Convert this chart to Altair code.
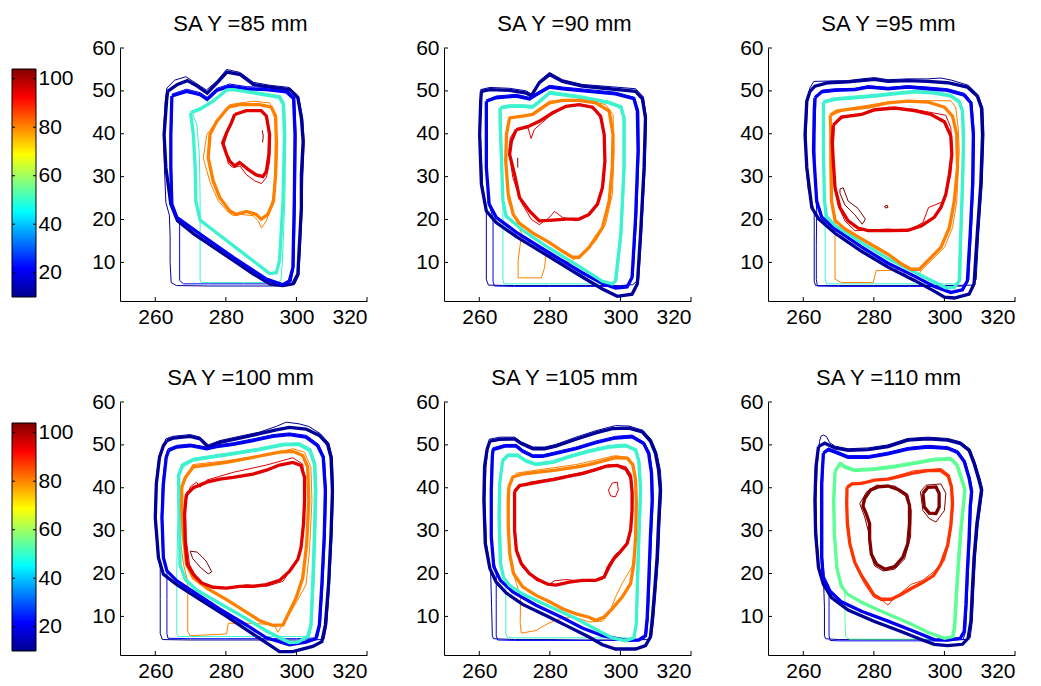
import altair as alt
import pandas as pd

# ---------------- layout / axes constants ----------------
W, H = 247, 253
CB_W = 24
CB_CELL = 31
X_DOMAIN = [250, 320]
Y_DOMAIN = [1, 60]
X_TICKS = [260, 280, 300, 320]
Y_TICKS = [10, 20, 30, 40, 50, 60]
CB_DOMAIN = [8.35, 112.66]
CB_LO, CB_HI = 10, 104
CB_TICKS = [20, 40, 60, 80, 100]
FONT = "Liberation Sans"

PANELS = ["SA Y =85 mm", "SA Y =90 mm", "SA Y =95 mm",
          "SA Y =100 mm", "SA Y =105 mm", "SA Y =110 mm"]

LEVELS = ["navy", "blue", "cyan", "green", "orange", "redorange", "red", "darkred"]
LEVEL_COLORS = ["#000099", "#0000F0", "#3CF2CF", "#5CFF94", "#FF8000", "#FF3300", "#E00000", "#800000"]

JET = [(0.0, "#00008F"), (0.125, "#0000FF"), (0.375, "#00FFFF"),
       (0.625, "#FFFF00"), (0.875, "#FF0000"), (1.0, "#800000")]

# ---------------- SA Y = 85 mm ----------------
p85_navy_thick = [(263.5,49.9),(266.3,51.5),(269.1,52.4),(271.9,51.1),(274.7,49.5),(277.5,51.9),(280.3,54.4),(284.1,53.8),(287.8,51.5),(292.5,50.9),(298.1,50.3),(300.4,48.4),(301.4,43.7),(301.9,38.3),(301.4,30.5),(301.4,22.8),(300.9,15.0),(300.4,7.3),(299.0,5.0),(296.2,4.6),(292.5,5.0),(287.8,7.3),(282.2,10.4),(276.6,13.5),(271.0,16.6),(266.3,19.7),(264.4,23.6),(263.0,32.1),(262.5,39.8),(263.2,47.6)]
p85_navy_thin = [(263.3,50.7),(265.5,52.5),(268.7,53.3),(271.5,51.8),(274.5,50.2),(277.5,52.3),(280.2,55.0),(284.0,54.3),(287.8,52.0),(292.5,51.3),(298.0,50.8),(300.6,48.8),(301.8,43.5),(302.2,38.0),(301.8,30.0),(301.6,22.0),(301.2,14.5),(300.7,7.0),(299.5,4.9),(296.0,4.5),(285.0,4.5),(275.0,4.5),(266.0,4.6),(264.5,5.3),(264.2,10.0),(264.2,16.0),(264.0,21.0),(263.0,24.0),(262.6,32.0),(262.3,40.0),(262.8,47.5)]
p85_blue_thick = [(264.7,48.8),(268.9,49.9),(272.7,49.1),(274.7,48.0),(277.4,50.1),(281.1,51.1),(285.8,50.5),(291.5,50.3),(297.1,49.8),(299.2,48.2),(299.6,39.8),(299.4,24.3),(299.0,8.8),(298.0,5.7),(296.2,4.8),(291.5,6.1),(282.1,11.2),(272.7,16.6),(266.1,20.5),(264.7,23.6),(264.4,32.1),(264.4,39.8)]
p85_blue_thin = [(264.9,49.3),(268.9,50.4),(272.7,49.6),(274.7,48.5),(277.4,50.6),(281.1,51.6),(285.8,51.0),(291.5,50.8),(297.1,50.3),(299.5,48.6),(299.9,39.8),(299.7,24.3),(299.3,9.0),(298.5,5.5),(296.5,5.0),(285.0,5.0),(275.0,5.0),(268.0,5.0),(266.9,5.8),(266.9,12.0),(266.9,19.5),(264.9,22.5),(264.6,32.0),(264.6,40.0)]
p85_cyan_thick = [(270.0,44.9),(272.7,45.7),(276.4,47.6),(280.2,50.2),(282.1,50.3),(285.8,49.8),(291.5,49.0),(295.2,48.5),(296.3,46.8),(296.6,39.8),(296.2,24.3),(295.2,10.4),(294.3,7.6),(292.4,7.4),(287.7,10.4),(282.1,13.9),(276.4,17.5),(272.7,19.9),(271.5,24.3),(271.3,32.1),(270.8,39.8)]
p85_cyan_thin = [(270.3,45.3),(272.9,46.2),(276.6,48.0),(280.4,50.6),(282.3,50.8),(286.0,50.2),(291.6,49.4),(295.4,48.9),(296.6,47.2),(297.0,40.0),(296.7,24.3),(296.0,10.0),(295.6,5.8),(294.5,5.3),(285.0,5.3),(276.0,5.3),(273.0,5.3),(272.7,6.0),(272.7,15.0),(272.7,25.0),(272.5,35.0),(271.8,42.0)]
p85_orange_thick = [(280.7,46.2),(283.9,46.8),(289.6,46.8),(292.9,46.2),(294.1,44.1),(294.3,38.3),(294.1,30.5),(293.5,24.3),(291.9,21.2),(290.0,20.1),(288.6,21.2),(285.8,21.9),(283.0,21.2),(281.1,22.0),(278.3,25.1),(276.4,29.0),(275.0,34.4),(275.5,39.8),(277.4,42.9)]
p85_orange_thin = [(281.1,46.8),(287.7,47.6),(292.4,47.2),(293.5,45.3),(294.7,38.3),(294.3,29.8),(292.8,22.8),(291.5,19.7),(290.1,18.0),(289.2,19.7),(287.7,20.9),(284.0,21.2),(282.1,20.9),(280.7,21.7),(277.9,24.3),(275.5,28.7),(273.6,34.4),(274.6,39.8),(277.0,42.5)]
p85_red_thick = [(282.5,44.5),(285.8,45.4),(290.0,45.4),(291.5,44.1),(292.4,39.8),(292.2,35.2),(291.5,31.3),(290.5,30.0),(288.6,30.4),(286.3,31.7),(283.9,33.3),(282.5,32.5),(281.1,33.6),(280.2,35.2),(279.1,37.9),(280.2,40.2),(281.6,42.6)]
p85_red_thin = [(282.1,44.1),(286.3,45.6),(290.5,45.2),(291.8,43.3),(292.6,38.3),(292.4,33.6),(291.5,29.8),(290.1,28.4),(288.2,29.0),(285.8,30.5),(284.0,32.5),(282.1,32.1),(280.7,33.0),(279.5,37.6),(280.7,40.7)]
p85_darkred_thin = [(290.3,40.8),(290.6,39.5),(290.4,38.0)]

# ---------------- SA Y = 90 mm ----------------
p90_navy_thick = [(260.6,49.9),(263.0,50.3),(268.6,50.1),(273.3,49.5),(274.7,48.8),(277.0,51.9),(279.9,53.8),(283.6,52.2),(289.2,51.1),(296.8,50.5),(304.3,49.9),(306.2,48.2),(307.1,43.7),(306.7,32.1),(305.7,16.6),(304.8,5.0),(303.3,2.6),(299.1,2.1),(294.9,3.8),(289.2,6.6),(279.9,11.3),(270.5,16.0),(264.8,19.3),(262.0,22.0),(260.6,28.2),(260.1,39.8),(260.4,47.6)]
p90_navy_thin = [(260.4,50.3),(263.0,50.8),(268.6,50.6),(273.3,50.0),(274.7,49.3),(277.0,52.3),(279.9,54.3),(283.6,52.6),(289.2,51.5),(296.8,51.0),(304.3,50.5),(306.5,48.6),(307.4,43.7),(307.0,32.0),(306.0,16.6),(305.2,6.0),(303.5,4.8),(300.0,4.6),(290.0,4.6),(280.0,4.6),(270.0,4.6),(262.6,4.7),(262.0,6.0),(262.0,15.0),(262.0,22.0),(260.9,28.0),(260.3,39.8)]
p90_blue_thick = [(262.0,47.6),(264.8,48.4),(270.5,48.8),(274.2,48.1),(276.1,49.1),(279.9,50.9),(283.6,50.5),(291.1,49.9),(298.6,49.3),(303.8,48.2),(304.8,45.3),(305.0,36.0),(304.3,20.5),(303.3,6.5),(301.9,4.3),(298.6,4.0),(294.9,5.1),(289.2,7.6),(279.9,12.2),(270.5,17.0),(264.8,20.5),(262.8,23.6),(262.0,32.1),(262.0,43.7)]
p90_blue_thin = [(262.2,47.9),(264.8,48.8),(270.5,49.2),(274.2,48.5),(276.1,49.5),(279.9,51.3),(283.6,50.9),(291.1,50.3),(298.6,49.7),(304.0,48.5),(305.2,45.3),(305.3,36.0),(304.6,20.5),(303.6,7.0),(302.5,4.8),(300.0,4.4),(290.0,4.4),(280.0,4.4),(270.0,4.4),(264.3,4.5),(263.9,5.5),(263.9,14.0),(263.9,20.5),(262.5,24.0),(262.2,32.0),(262.2,43.7)]
p90_cyan_thick = [(265.9,46.0),(268.6,46.4),(272.3,46.4),(275.0,46.2),(276.6,47.2),(279.9,49.5),(283.6,49.1),(289.2,48.4),(296.8,47.2),(300.1,46.2),(301.0,43.7),(301.0,32.1),(300.1,16.6),(298.6,5.7),(297.7,5.0),(294.9,5.6),(289.2,8.6),(279.9,13.3),(272.3,17.5),(267.6,20.8),(266.7,24.3),(266.2,36.0),(265.9,42.9)]
p90_cyan_thin = [(266.1,46.4),(268.6,46.8),(272.3,46.8),(275.0,46.6),(276.6,47.6),(279.9,49.9),(283.6,49.5),(289.2,48.8),(296.8,47.6),(300.4,46.5),(301.3,43.7),(301.3,32.0),(300.4,16.6),(299.0,6.0),(298.2,5.0),(290.0,5.0),(280.0,5.0),(270.0,5.0),(267.0,5.0),(266.7,6.0),(266.7,15.0),(266.7,24.0),(266.4,36.0)]
p90_orange_thick = [(268.6,43.7),(272.3,44.1),(275.1,44.5),(279.9,47.2),(283.6,47.8),(288.3,47.8),(293.0,47.2),(296.8,45.3),(297.9,39.8),(297.7,32.1),(296.8,24.3),(294.9,18.1),(291.1,13.5),(288.3,11.2),(286.4,11.2),(283.6,12.6),(279.9,14.6),(275.1,16.9),(271.4,19.1),(269.6,21.2),(268.2,25.9),(267.5,33.6),(267.7,39.8)]
p90_orange_thin = [(268.4,43.9),(274.2,44.3),(279.9,47.6),(289.2,48.0),(295.8,46.8),(297.9,44.5),(298.2,36.0),(297.7,25.9),(295.8,18.9),(293.0,15.0),(289.2,11.9),(285.5,10.0),(281.7,11.2),(278.9,11.9),(278.5,8.8),(277.6,6.4),(271.0,6.4),(271.0,10.4),(272.0,16.7),(270.1,20.5),(268.2,24.3),(267.3,33.6),(267.5,39.8)]
p90_red_thick = [(270.5,41.0),(274.2,41.8),(277.0,42.9),(280.8,44.9),(284.6,46.4),(288.3,46.8),(292.1,46.2),(294.4,44.1),(295.4,39.8),(295.6,33.6),(294.9,27.4),(293.5,23.6),(291.1,21.2),(288.3,20.1),(284.6,20.1),(279.9,19.8),(277.0,19.7),(274.2,22.0),(271.4,25.1),(270.0,30.5),(268.6,35.2),(269.1,38.3)]
p90_red_thin = [(270.0,40.6),(273.8,41.4),(274.7,38.9),(275.6,41.0),(279.9,44.1),(284.6,46.4),(289.2,46.7),(293.0,45.7),(295.1,42.2),(295.8,36.1),(295.4,29.0),(293.9,24.3),(291.1,20.9),(287.4,19.7),(283.6,20.5),(281.3,21.9),(279.9,20.5),(277.0,18.8),(274.7,20.1),(271.9,24.0),(269.5,29.8),(268.4,36.0),(268.8,39.1)]
p90_darkred_thin = [(270.9,34.4),(270.9,32.1)]

# ---------------- SA Y = 95 mm ----------------
p95_navy_thick = [(261.9,49.9),(263.3,51.1),(267.1,51.9),(272.7,52.1),(276.5,52.4),(280.2,52.7),(284.0,52.2),(289.6,52.4),(295.3,52.2),(300.9,51.9),(306.5,50.9),(309.3,48.8),(310.5,46.0),(310.8,39.8),(310.3,28.2),(309.3,16.6),(308.4,5.0),(307.0,2.6),(302.8,1.7),(300.0,1.9),(297.1,3.3),(291.5,5.8),(284.0,8.9),(276.5,12.6),(269.0,16.8),(264.3,20.2),(262.4,22.8),(261.0,32.1),(260.5,39.8),(261.0,47.6)]
p95_navy_thin = [(261.8,50.6),(263.0,52.2),(267.1,52.3),(272.7,52.4),(276.5,52.8),(280.2,53.1),(284.0,52.6),(289.6,52.8),(295.3,52.8),(299.0,53.0),(302.0,52.5),(306.8,51.3),(309.6,49.0),(310.9,46.0),(311.2,39.8),(310.7,28.2),(309.7,16.6),(309.0,6.0),(307.8,4.7),(300.0,4.6),(290.0,4.6),(280.0,4.6),(270.0,4.6),(263.5,4.6),(263.1,5.5),(263.1,14.0),(263.1,22.0),(261.4,27.0),(260.8,32.1),(260.8,39.8),(261.2,47.6)]
p95_blue_thick = [(263.3,48.4),(265.2,49.8),(269.0,50.1),(274.6,50.3),(278.4,50.9),(284.0,50.5),(289.6,50.9),(295.3,50.5),(300.9,50.1),(305.6,49.0),(307.5,47.2),(308.2,39.8),(308.0,28.2),(307.3,16.6),(306.5,5.7),(305.1,3.6),(301.8,3.0),(297.1,4.4),(291.5,6.8),(284.0,9.8),(276.5,13.6),(269.0,17.8),(265.2,20.6),(263.8,24.3),(262.9,36.0),(263.1,45.3)]
p95_blue_thin = [(263.6,48.6),(265.4,50.2),(269.0,50.5),(274.6,50.6),(278.4,51.2),(284.0,50.8),(289.6,51.2),(295.3,50.9),(300.9,50.5),(305.8,49.4),(307.8,47.3),(308.5,39.8),(308.3,28.2),(307.6,16.6),(306.9,6.0),(306.0,4.5),(300.0,4.4),(290.0,4.4),(280.0,4.4),(270.0,4.4),(264.0,4.5),(263.7,6.0),(263.7,14.0),(263.8,22.0),(263.3,30.0),(263.3,40.0)]
p95_cyan_thick = [(265.7,47.4),(269.0,48.0),(274.6,48.4),(280.2,48.8),(285.9,49.3),(291.5,49.8),(297.1,49.5),(301.8,48.8),(304.2,47.4),(305.1,45.3),(305.4,38.3),(305.1,28.2),(304.6,16.6),(304.2,5.7),(302.8,4.2),(300.4,4.1),(295.3,6.2),(289.6,8.5),(284.0,10.9),(276.5,14.6),(269.0,18.6),(266.6,20.6),(266.0,24.3),(265.7,36.0)]
p95_cyan_thin = [(265.9,47.8),(269.0,48.4),(274.6,48.8),(280.2,49.2),(285.9,49.7),(291.5,50.1),(297.1,49.9),(301.8,49.2),(304.4,47.8),(305.4,45.3),(305.7,38.3),(305.4,28.2),(304.9,16.6),(304.6,6.0),(303.8,5.0),(295.0,5.0),(285.0,5.0),(275.0,5.0),(266.6,5.0),(266.2,6.0),(266.2,14.0),(266.2,20.0),(266.0,24.0),(265.9,36.0)]
p95_orange_thick = [(267.6,44.3),(269.4,45.3),(272.7,45.7),(278.4,46.2),(284.0,47.2),(289.6,47.6),(295.3,47.4),(300.0,46.2),(302.3,44.1),(303.5,39.8),(303.7,32.1),(302.8,24.3),(301.4,18.1),(299.0,13.5),(295.3,10.4),(292.9,8.4),(290.6,8.4),(287.7,9.7),(284.0,11.9),(276.5,15.5),(271.8,17.8),(269.0,19.8),(268.0,24.3),(267.8,33.6),(267.8,41.4)]
p95_orange_thin = [(267.6,44.1),(272.7,45.9),(284.0,47.4),(293.4,47.7),(301.8,47.7),(303.2,46.2),(303.9,41.4),(304.2,36.0),(303.5,24.3),(302.3,18.1),(300.0,13.5),(296.2,10.4),(293.4,8.1),(292.0,6.1),(290.1,6.1),(287.7,8.4),(284.0,8.1),(280.7,8.1),(279.8,5.3),(270.8,5.3),(269.0,6.1),(269.0,16.6),(269.0,19.3),(268.0,24.3),(267.8,33.6),(267.6,41.4)]
p95_red_thick = [(268.5,42.0),(270.8,43.9),(276.5,44.5),(280.2,45.6),(285.9,46.0),(291.5,45.4),(296.2,44.5),(300.0,42.8),(301.8,39.5),(302.1,35.2),(301.4,30.5),(300.4,25.9),(299.0,22.8),(297.1,20.5),(293.4,18.5),(289.6,17.5),(284.0,17.4),(278.4,17.4),(275.5,18.0),(272.7,19.7),(270.4,22.8),(269.0,27.4),(268.5,33.6),(268.2,38.3)]
p95_red_thin = [(268.8,42.2),(271.8,44.1),(277.4,44.7),(284.0,46.2),(291.5,45.7),(300.4,44.3),(301.8,41.4),(302.3,36.0),(301.8,30.5),(300.0,24.3),(295.5,22.8),(293.9,19.3),(289.6,17.4),(284.0,17.8),(278.4,17.5),(274.6,17.4),(271.8,19.7),(269.9,23.2),(268.8,28.2),(268.5,36.0)]
p95_darkred_thin = [(270.4,27.1),(271.3,27.4),(272.7,24.3),(275.5,22.6),(277.6,20.1),(276.7,18.9),(274.6,21.1),(271.8,23.4),(270.4,26.1)]
p95_darkred_dot = [(283.0,23.1),(283.8,23.3),(284.0,22.8),(283.3,22.7)]

# ---------------- SA Y = 100 mm ----------------
p100_navy_thick = [(263.3,51.0),(265.2,51.6),(269.9,52.0),(272.7,51.4),(275.0,49.5),(278.3,50.6),(283.9,51.6),(289.6,52.6),(294.3,53.5),(298.0,54.1),(302.7,53.7),(306.5,52.2),(308.8,50.2),(309.8,47.1),(310.2,39.3),(309.8,29.1),(309.1,17.4),(308.2,8.0),(307.2,4.1),(304.6,3.0),(299.0,1.8),(295.2,1.8),(291.5,3.8),(285.8,6.9),(280.2,10.0),(272.7,13.9),(266.1,17.4),(262.3,19.8),(260.9,23.7),(260.0,33.0),(260.3,40.9),(261.2,47.1),(262.3,49.8)]
p100_navy_thin = [(263.0,51.4),(265.0,52.0),(269.9,52.4),(272.7,51.8),(275.0,50.0),(278.3,51.0),(283.9,52.0),(289.6,53.0),(294.3,54.3),(297.1,55.3),(300.8,54.9),(303.5,54.3),(306.8,52.6),(309.2,50.4),(310.2,47.0),(310.5,39.3),(310.1,29.1),(309.4,17.4),(308.6,8.0),(307.8,4.6),(300.0,4.5),(290.0,4.5),(280.0,4.5),(270.0,4.5),(262.0,4.6),(261.4,6.0),(261.4,14.0),(261.4,21.3),(260.6,25.0),(259.9,33.0),(260.1,40.9),(261.0,47.3)]
p100_blue_thick = [(263.8,48.7),(266.1,49.5),(269.9,49.8),(274.6,49.1),(277.4,49.6),(282.1,50.1),(287.7,51.0),(293.3,52.0),(298.0,52.4),(302.7,51.8),(306.0,49.8),(307.6,47.1),(308.2,39.3),(307.9,29.1),(307.2,17.4),(306.5,8.0),(305.5,4.8),(302.7,4.0),(298.0,3.4),(291.5,5.0),(285.8,8.0),(278.3,11.7),(272.7,14.7),(266.1,18.3),(263.3,20.6),(262.3,23.7),(261.9,33.0),(262.3,40.9),(263.1,47.1)]
p100_blue_thin = [(263.6,49.1),(266.1,49.9),(269.9,50.2),(274.6,49.5),(277.4,50.0),(282.1,50.5),(287.7,51.4),(293.3,52.4),(298.0,52.8),(302.9,52.2),(306.3,50.1),(307.9,47.3),(308.5,39.3),(308.2,29.1),(307.5,17.4),(306.8,8.0),(306.0,5.0),(300.0,4.8),(290.0,4.8),(280.0,4.8),(270.0,4.8),(263.6,4.9),(263.3,6.0),(263.3,14.0),(263.3,20.5),(262.1,24.0),(261.7,33.0),(262.0,40.9),(262.9,47.3)]
p100_cyan_thick = [(266.6,42.8),(267.8,45.2),(270.8,46.5),(275.5,47.1),(282.1,47.9),(289.6,48.9),(296.2,50.0),(300.8,50.1),(303.8,48.7),(305.1,45.5),(305.4,39.3),(305.1,29.1),(304.6,17.4),(304.1,8.0),(303.2,5.3),(300.4,4.0),(298.0,3.9),(291.5,6.6),(285.8,9.5),(278.3,13.0),(271.7,16.2),(268.5,18.6),(267.0,22.1),(266.9,33.0),(266.7,40.9)]
p100_cyan_thin = [(266.3,43.0),(267.5,45.6),(270.8,46.9),(275.5,47.5),(282.1,48.3),(289.6,49.3),(296.2,50.4),(300.8,50.5),(304.1,49.1),(305.5,45.5),(305.8,39.3),(305.5,29.1),(305.0,17.4),(304.4,8.0),(303.7,5.3),(300.0,5.3),(290.0,5.3),(280.0,5.3),(270.0,5.3),(266.5,5.3),(266.1,6.0),(266.1,14.0),(266.1,21.0),(266.4,33.0)]
p100_orange_thick = [(267.5,40.1),(268.5,42.4),(270.8,44.9),(274.6,45.3),(280.2,45.9),(287.7,47.1),(295.2,48.3),(299.0,48.5),(301.8,47.5),(303.2,44.8),(303.5,37.0),(302.9,26.8),(301.8,19.0),(299.9,14.3),(297.6,10.4),(296.2,8.0),(293.3,7.9),(289.6,9.0),(285.8,11.0),(280.2,13.9),(274.6,16.6),(270.8,19.0),(268.9,22.1),(268.0,28.4),(267.5,35.4)]
p100_orange_thin = [(267.8,40.5),(270.6,45.4),(280.2,46.3),(291.5,47.7),(299.0,49.1),(302.3,48.3),(304.1,44.8),(304.4,37.0),(303.7,25.2),(302.7,17.4),(300.4,13.9),(298.5,11.2),(296.9,9.6),(296.2,8.2),(294.7,6.3),(293.8,8.0),(287.7,8.4),(280.7,8.4),(280.2,5.9),(269.9,5.5),(269.2,6.5),(269.2,18.2),(268.0,22.1),(267.0,28.4),(267.0,35.4)]
p100_red_thick = [(268.9,38.5),(270.8,40.0),(274.6,41.3),(278.3,42.0),(282.1,42.4),(287.7,43.2),(291.5,44.1),(295.2,45.3),(299.0,45.9),(301.3,45.2),(302.3,42.4),(302.3,37.0),(302.0,31.5),(301.3,26.0),(300.4,23.3),(298.0,20.5),(295.2,18.4),(291.5,17.4),(287.7,17.0),(283.9,17.0),(280.2,16.6),(276.4,16.8),(273.1,17.8),(270.8,19.8),(269.1,22.1),(268.5,26.8),(268.3,33.8),(268.7,37.7)]
p100_red_thin = [(269.9,40.2),(271.7,41.3),(272.7,40.1),(274.6,41.8),(282.1,43.6),(291.5,45.3),(299.0,47.0),(301.8,45.5),(302.5,37.0),(301.8,28.4),(300.8,23.7),(299.0,21.7),(296.2,18.2),(291.5,17.0),(285.8,17.4),(280.2,16.5),(274.6,17.0),(271.3,19.6),(269.7,22.1),(268.7,28.4),(268.5,36.2)]
p100_darkred_thin = [(269.9,25.2),(271.9,25.0),(274.4,22.9),(276.0,20.4),(275.0,19.9),(272.7,21.5),(270.6,23.5)]

# ---------------- SA Y = 105 mm ----------------
p105_navy_thick = [(263.0,50.9),(265.8,51.3),(270.0,51.4),(271.9,50.3),(275.2,49.1),(278.5,49.1),(281.7,49.7),(287.4,51.3),(293.0,52.8),(297.7,53.8),(302.4,53.9),(306.2,53.0),(308.5,50.9),(309.9,48.1),(310.8,44.2),(311.3,39.5),(310.8,31.7),(310.4,23.9),(309.7,16.1),(309.0,9.1),(308.5,5.2),(307.1,3.2),(304.3,2.4),(298.6,2.4),(294.9,3.4),(291.1,5.2),(285.5,7.5),(279.9,9.8),(272.3,12.8),(267.6,15.5),(264.8,18.0),(263.0,21.2),(261.7,27.0),(261.3,37.2),(261.5,45.0),(262.2,48.9)]
p105_navy_thin = [(262.8,51.3),(265.8,51.8),(270.0,51.8),(271.9,50.7),(275.2,49.5),(278.5,49.5),(281.7,50.1),(287.4,51.8),(293.0,53.3),(298.6,54.5),(302.4,54.4),(306.4,53.4),(308.8,51.2),(310.3,48.2),(311.3,44.2),(311.7,39.5),(311.2,31.7),(310.8,23.9),(310.1,16.1),(309.4,9.1),(308.8,5.0),(307.5,4.6),(300.0,4.5),(290.0,4.5),(280.0,4.6),(270.0,4.6),(264.0,4.8),(263.7,5.5),(263.5,12.0),(263.2,21.0),(262.0,27.0),(261.6,37.2),(261.9,45.0)]
p105_blue_thick = [(263.9,48.9),(267.2,49.7),(270.5,49.7),(272.3,48.5),(275.2,47.3),(278.0,47.3),(281.7,48.0),(287.4,49.1),(293.0,50.5),(298.6,51.6),(303.3,51.9),(306.6,50.3),(308.0,48.0),(308.8,43.4),(309.0,37.2),(308.5,28.6),(308.0,17.7),(307.6,9.8),(307.1,5.5),(305.2,4.5),(301.5,4.4),(294.9,5.5),(289.2,7.3),(283.6,9.7),(276.1,12.6),(269.5,15.7),(266.0,18.4),(264.1,21.6),(263.4,28.6),(263.4,39.5),(263.7,47.3)]
p105_blue_thin = [(263.8,49.3),(267.2,50.1),(270.5,50.1),(272.3,48.9),(275.2,47.7),(278.0,47.7),(281.7,48.4),(287.4,49.5),(293.0,50.9),(298.6,52.0),(303.3,52.3),(306.8,50.6),(308.3,48.2),(309.1,43.4),(309.3,37.2),(308.8,28.6),(308.3,17.7),(307.9,9.8),(307.4,5.6),(306.5,4.6),(300.0,4.4),(290.0,4.4),(280.0,4.4),(270.0,4.4),(265.2,4.5),(264.8,5.5),(264.8,14.0),(264.8,20.5),(263.8,24.0),(263.2,28.6),(263.2,39.5),(263.5,47.3)]
p105_cyan_thick = [(266.6,46.2),(268.1,47.5),(270.9,47.5),(273.3,46.2),(276.1,45.4),(280.8,45.9),(285.5,47.2),(291.1,48.5),(296.8,49.5),(301.5,49.8),(304.3,48.8),(305.2,46.2),(305.7,39.5),(305.2,28.6),(304.8,17.7),(304.5,8.3),(303.8,5.0),(301.5,4.3),(297.7,5.0),(293.0,7.0),(287.4,9.5),(279.9,12.3),(272.3,15.2),(268.6,17.2),(266.9,19.0),(266.0,22.3),(265.6,33.3),(265.8,41.1)]
p105_cyan_thin = [(266.4,46.6),(268.0,47.9),(270.9,47.9),(273.3,46.6),(276.1,45.8),(280.8,46.3),(285.5,47.6),(291.1,48.9),(296.8,49.9),(301.5,50.2),(304.6,49.0),(305.5,46.2),(306.0,39.5),(305.5,28.6),(305.1,17.7),(304.7,8.3),(304.2,5.5),(303.5,5.0),(295.0,5.0),(285.0,5.0),(275.0,5.0),(268.0,5.0),(267.5,6.0),(267.5,12.0),(267.5,17.5),(266.3,22.3),(265.9,33.3),(266.0,41.1)]
p105_orange_thick = [(268.4,40.2),(269.5,42.5),(272.3,43.2),(276.1,43.6),(281.7,44.1),(287.4,44.8),(291.1,45.4),(294.9,46.2),(298.6,47.0),(301.9,46.9),(303.5,45.4),(304.3,41.9),(304.5,36.4),(304.3,28.6),(303.8,22.3),(302.9,17.7),(300.5,14.5),(297.7,11.8),(295.3,9.8),(293.0,9.1),(291.1,9.8),(287.4,10.6),(283.6,11.8),(279.9,13.4),(276.1,14.9),(272.3,16.9),(269.7,20.0),(268.6,24.7),(268.2,31.7),(268.2,37.2)]
p105_orange_thin = [(268.6,41.1),(270.5,43.4),(276.1,44.1),(287.4,45.4),(298.6,47.5),(302.4,47.0),(303.8,45.0),(304.7,37.2),(304.5,28.6),(303.3,21.6),(300.5,17.7),(298.6,14.5),(296.8,10.6),(294.9,8.9),(291.1,8.7),(288.3,9.5),(285.5,9.8),(281.7,9.2),(278.9,8.1),(276.1,6.7),(271.9,6.1),(271.6,8.3),(271.7,14.5),(270.5,17.7),(269.1,21.6),(268.4,28.6),(268.4,35.6)]
p105_red_thick = [(270.0,39.1),(271.4,40.5),(274.2,40.9),(278.0,41.5),(281.7,42.0),(285.5,42.7),(289.2,43.3),(293.0,44.2),(295.8,45.0),(299.1,45.2),(301.5,44.4),(302.9,42.5),(303.3,39.1),(303.3,34.8),(302.9,30.2),(301.9,27.0),(300.0,25.1),(298.2,23.5),(296.8,21.6),(295.4,19.2),(293.0,18.4),(289.2,18.4),(285.5,18.0),(281.7,17.3),(279.4,17.5),(276.6,18.6),(274.2,20.0),(271.9,22.3),(270.5,25.5),(270.0,30.2),(270.0,34.8)]
p105_red_thin = [(270.3,39.9),(274.2,41.3),(281.7,42.3),(289.2,43.6),(296.8,45.4),(301.5,45.0),(303.1,43.0),(303.5,37.2),(303.1,30.9),(301.5,26.2),(298.6,24.5),(296.3,21.7),(294.9,18.6),(289.2,18.2),(284.6,18.6),(281.3,18.3),(279.9,17.5),(276.1,18.4),(272.3,21.4),(270.5,24.7),(269.7,30.9),(270.0,37.2)]
p105_red_loop = [(297.7,41.1),(299.1,41.3),(299.4,39.5),(298.6,37.9),(297.2,38.1),(296.6,39.5)]

# ---------------- SA Y = 110 mm ----------------
p110_navy_thick = [(264.3,49.6),(266.1,50.4),(269.0,49.3),(272.7,48.7),(278.4,48.9),(284.0,49.6),(289.6,51.1),(295.3,51.4),(300.9,51.1),(304.6,50.3),(307.0,48.7),(308.4,45.7),(309.8,41.8),(310.5,39.5),(310.1,37.1),(309.2,31.6),(308.4,23.8),(307.9,15.9),(307.5,8.9),(306.7,4.9),(305.1,3.5),(300.9,3.2),(297.1,3.5),(293.4,4.6),(287.7,6.5),(280.2,8.8),(272.7,11.5),(268.0,14.4),(265.7,17.5),(264.3,21.4),(263.5,29.3),(263.3,37.1),(263.6,44.9)]
p110_navy_thin = [(264.6,50.8),(265.0,52.0),(265.7,52.3),(266.6,51.9),(267.5,50.5),(269.0,49.7),(272.7,49.1),(278.4,49.3),(284.0,50.0),(289.6,51.5),(295.3,51.8),(300.9,51.5),(304.6,50.7),(307.3,49.0),(308.8,45.7),(310.2,41.8),(310.9,39.5),(310.5,37.1),(309.6,31.6),(308.8,23.8),(308.3,15.9),(307.9,8.9),(307.3,5.0),(306.0,4.6),(300.0,4.6),(290.0,4.6),(280.0,4.6),(270.0,4.6),(266.3,4.8),(266.0,5.5),(266.0,12.0),(265.8,17.0),(264.5,21.4),(263.8,29.3),(263.6,37.1),(263.9,44.9)]
p110_blue_thick = [(265.7,48.1),(267.1,48.9),(269.4,48.2),(272.7,47.1),(278.4,47.1),(284.0,47.9),(289.6,49.0),(295.3,49.5),(300.9,49.2),(303.7,48.2),(305.6,46.1),(307.0,42.2),(307.7,39.1),(307.3,35.5),(307.0,28.5),(306.5,20.6),(306.1,12.8),(305.6,6.5),(304.5,4.9),(300.9,4.5),(297.1,4.6),(291.5,6.5),(284.0,8.9),(276.5,11.2),(270.8,13.4),(267.6,15.9),(265.7,18.7),(265.2,23.8),(265.2,33.2),(265.2,41.0)]
p110_blue_thin = [(265.9,48.5),(267.1,49.3),(269.4,48.6),(272.7,47.5),(278.4,47.5),(284.0,48.3),(289.6,49.4),(295.3,49.9),(300.9,49.6),(303.9,48.6),(305.9,46.3),(307.3,42.3),(308.0,39.1),(307.6,35.5),(307.3,28.5),(306.8,20.6),(306.4,12.8),(306.0,6.5),(305.3,4.6),(300.0,4.3),(290.0,4.3),(280.0,4.3),(270.0,4.3),(267.6,4.4),(267.3,5.5),(267.3,12.0),(267.3,17.0),(265.9,19.5),(265.5,23.8),(265.5,33.2),(265.5,41.0)]
p110_green_thick = [(269.0,43.8),(270.4,45.6),(271.8,44.8),(274.6,44.0),(280.2,44.3),(285.9,44.9),(291.5,45.7),(297.1,46.5),(301.8,46.7),(303.5,45.3),(304.6,42.6),(305.8,39.5),(305.4,36.3),(304.6,30.0),(303.9,22.2),(303.3,14.4),(302.8,7.3),(302.3,5.3),(300.0,4.9),(295.3,6.3),(289.6,8.6),(282.1,11.2),(276.5,13.3),(272.5,15.2),(270.7,17.2),(269.5,21.4),(268.8,29.3),(268.6,37.1)]
p110_green_thin = [(269.2,44.2),(270.6,46.0),(272.0,45.2),(274.6,44.4),(280.2,44.7),(285.9,45.3),(291.5,46.1),(297.1,46.9),(301.8,47.1),(303.8,45.6),(305.0,42.7),(306.1,39.5),(305.7,36.3),(305.0,30.0),(304.3,22.2),(303.7,14.4),(303.2,7.3),(302.7,5.3),(301.5,4.7),(290.0,4.7),(280.0,4.7),(273.0,4.7),(272.0,5.3),(271.8,10.0),(271.8,16.0),(270.3,19.0),(269.3,24.0),(268.9,30.0),(268.9,37.1)]
p110_redorange_thick = [(272.4,40.1),(273.8,40.9),(276.5,41.0),(280.2,41.8),(284.0,42.0),(287.7,42.7),(291.5,43.5),(295.3,44.0),(299.0,44.0),(301.1,42.7),(302.0,40.2),(302.3,36.3),(301.8,31.2),(300.9,26.5),(299.0,22.2),(296.9,19.5),(293.8,17.9),(290.6,16.5),(287.7,15.1),(284.9,14.0),(282.1,14.0),(280.0,15.0),(278.4,17.1),(276.5,19.5),(274.6,22.6),(273.2,26.9),(272.5,31.6),(272.3,36.3)]
p110_redorange_thin = [(272.5,40.4),(276.5,41.3),(284.0,42.2),(291.5,44.0),(299.0,44.5),(301.4,43.0),(302.6,37.1),(302.0,30.8),(300.9,26.1),(300.0,23.0),(297.1,20.5),(293.8,18.4),(290.6,17.5),(287.7,15.5),(285.4,14.0),(284.0,12.6),(282.6,13.6),(280.0,14.5),(277.4,17.5),(275.1,21.4),(273.5,26.1),(272.5,33.2),(272.3,37.9)]
p110_darkred_thick = [(277.4,37.5),(279.1,39.5),(281.2,40.2),(284.0,40.4),(286.8,39.6),(289.2,38.3),(290.1,35.9),(290.1,31.6),(289.6,26.9),(288.2,23.8),(285.9,21.6),(283.1,21.0),(280.7,22.2),(279.3,24.5),(278.8,28.1),(278.8,31.6),(277.9,33.8),(276.9,35.7)]
p110_darkred_thin = [(276.0,36.3),(278.0,39.1),(280.8,40.6),(285.9,40.4),(289.6,38.5),(290.6,34.7),(290.4,28.5),(288.7,23.4),(285.9,21.0),(282.6,20.6),(280.2,21.8),(279.1,24.5),(278.4,30.0),(277.4,33.2)]
p110_darkred2_thick = [(293.9,38.7),(295.3,40.1),(297.6,40.2),(298.5,38.7),(298.5,35.5),(297.6,34.0),(295.7,34.1),(294.3,35.5)]
p110_darkred2_thin = [(293.2,39.1),(294.8,40.6),(299.0,40.9),(300.4,38.7),(300.0,34.7),(297.6,32.0),(295.7,32.8),(293.9,34.7)]

# (panel, level, style, points, closed)
CONTOURS = [
    (PANELS[0], "navy", "thick", p85_navy_thick, True), (PANELS[0], "navy", "thin", p85_navy_thin, True),
    (PANELS[0], "blue", "thick", p85_blue_thick, True), (PANELS[0], "blue", "thin", p85_blue_thin, True),
    (PANELS[0], "cyan", "thick", p85_cyan_thick, True), (PANELS[0], "cyan", "thin", p85_cyan_thin, True),
    (PANELS[0], "orange", "thick", p85_orange_thick, True), (PANELS[0], "orange", "thin", p85_orange_thin, True),
    (PANELS[0], "red", "thick", p85_red_thick, True), (PANELS[0], "red", "thin", p85_red_thin, True),
    (PANELS[0], "darkred", "thin", p85_darkred_thin, False),

    (PANELS[1], "navy", "thick", p90_navy_thick, True), (PANELS[1], "navy", "thin", p90_navy_thin, True),
    (PANELS[1], "blue", "thick", p90_blue_thick, True), (PANELS[1], "blue", "thin", p90_blue_thin, True),
    (PANELS[1], "cyan", "thick", p90_cyan_thick, True), (PANELS[1], "cyan", "thin", p90_cyan_thin, True),
    (PANELS[1], "orange", "thick", p90_orange_thick, True), (PANELS[1], "orange", "thin", p90_orange_thin, True),
    (PANELS[1], "red", "thick", p90_red_thick, True), (PANELS[1], "red", "thin", p90_red_thin, True),
    (PANELS[1], "darkred", "thin", p90_darkred_thin, False),

    (PANELS[2], "navy", "thick", p95_navy_thick, True), (PANELS[2], "navy", "thin", p95_navy_thin, True),
    (PANELS[2], "blue", "thick", p95_blue_thick, True), (PANELS[2], "blue", "thin", p95_blue_thin, True),
    (PANELS[2], "cyan", "thick", p95_cyan_thick, True), (PANELS[2], "cyan", "thin", p95_cyan_thin, True),
    (PANELS[2], "orange", "thick", p95_orange_thick, True), (PANELS[2], "orange", "thin", p95_orange_thin, True),
    (PANELS[2], "red", "thick", p95_red_thick, True), (PANELS[2], "red", "thin", p95_red_thin, True),
    (PANELS[2], "darkred", "thin", p95_darkred_thin, True), (PANELS[2], "darkred", "thin", p95_darkred_dot, True),

    (PANELS[3], "navy", "thick", p100_navy_thick, True), (PANELS[3], "navy", "thin", p100_navy_thin, True),
    (PANELS[3], "blue", "thick", p100_blue_thick, True), (PANELS[3], "blue", "thin", p100_blue_thin, True),
    (PANELS[3], "cyan", "thick", p100_cyan_thick, True), (PANELS[3], "cyan", "thin", p100_cyan_thin, True),
    (PANELS[3], "orange", "thick", p100_orange_thick, True), (PANELS[3], "orange", "thin", p100_orange_thin, True),
    (PANELS[3], "red", "thick", p100_red_thick, True), (PANELS[3], "red", "thin", p100_red_thin, True),
    (PANELS[3], "darkred", "thin", p100_darkred_thin, True),

    (PANELS[4], "navy", "thick", p105_navy_thick, True), (PANELS[4], "navy", "thin", p105_navy_thin, True),
    (PANELS[4], "blue", "thick", p105_blue_thick, True), (PANELS[4], "blue", "thin", p105_blue_thin, True),
    (PANELS[4], "cyan", "thick", p105_cyan_thick, True), (PANELS[4], "cyan", "thin", p105_cyan_thin, True),
    (PANELS[4], "orange", "thick", p105_orange_thick, True), (PANELS[4], "orange", "thin", p105_orange_thin, True),
    (PANELS[4], "red", "thick", p105_red_thick, True), (PANELS[4], "red", "thin", p105_red_thin, True),
    (PANELS[4], "red", "thin", p105_red_loop, True),

    (PANELS[5], "navy", "thick", p110_navy_thick, True), (PANELS[5], "navy", "thin", p110_navy_thin, True),
    (PANELS[5], "blue", "thick", p110_blue_thick, True), (PANELS[5], "blue", "thin", p110_blue_thin, True),
    (PANELS[5], "green", "thick", p110_green_thick, True), (PANELS[5], "green", "thin", p110_green_thin, True),
    (PANELS[5], "redorange", "thick", p110_redorange_thick, True), (PANELS[5], "redorange", "thin", p110_redorange_thin, True),
    (PANELS[5], "darkred", "thick", p110_darkred_thick, True), (PANELS[5], "darkred", "thin", p110_darkred_thin, True),
    (PANELS[5], "darkred", "thick", p110_darkred2_thick, True), (PANELS[5], "darkred", "thin", p110_darkred2_thin, True),
]

rows = []
for cid, (panel, level, style, pts, closed) in enumerate(CONTOURS):
    seq = list(pts) + ([pts[0]] if closed else [])
    for k, (x, y) in enumerate(seq):
        rows.append({"panel": panel, "line": cid, "level": level, "style": style,
                     "order": k, "x": x, "y": y})
frame = pd.DataFrame(rows)

color_scale = alt.Scale(domain=LEVELS, range=LEVEL_COLORS)
xs = alt.Scale(domain=X_DOMAIN, nice=False, zero=False)
ys = alt.Scale(domain=Y_DOMAIN, nice=False, zero=False)
x_axis = alt.Axis(values=X_TICKS, labelPadding=5, title=None)
y_axis = alt.Axis(values=Y_TICKS, labelPadding=5, title=None)


def make_panel(name):
    d = frame[frame["panel"] == name]
    enc = dict(
        x=alt.X("x:Q", scale=xs, axis=x_axis),
        y=alt.Y("y:Q", scale=ys, axis=y_axis),
        color=alt.Color("level:N", scale=color_scale, legend=None),
        detail="line:N",
        order="order:Q",
    )
    thin = alt.Chart(d[d["style"] == "thin"]).mark_line(strokeWidth=1, clip=True).encode(**enc)
    thick = alt.Chart(d[d["style"] == "thick"]).mark_line(strokeWidth=3.3, clip=True).encode(**enc)
    xt = alt.Chart(pd.DataFrame({"x": X_TICKS})).mark_rule(color="black", strokeWidth=1).encode(
        x=alt.X("x:Q", scale=xs, axis=x_axis), y=alt.value(H), y2=alt.value(H - 4))
    yt = alt.Chart(pd.DataFrame({"y": Y_TICKS})).mark_rule(color="black", strokeWidth=1).encode(
        y=alt.Y("y:Q", scale=ys, axis=y_axis), x=alt.value(0), x2=alt.value(4))
    return alt.layer(thin, thick, xt, yt).properties(
        width=W, height=H,
        title=alt.TitleParams(text=name, font=FONT, fontSize=22, fontWeight="normal",
                              color="black", anchor="middle", frame="group", offset=1, dx=-3))


def make_colorbar():
    cs = alt.Scale(domain=CB_DOMAIN, nice=False, zero=False)
    cax = alt.Axis(values=CB_TICKS, orient="right", labelPadding=2, domain=False,
                   title=None, offset=CB_W - CB_CELL)
    grad = alt.Gradient(gradient="linear",
                        stops=[alt.GradientStop(color=c, offset=o) for o, c in JET],
                        x1=0, x2=0, y1=1, y2=0)
    bar = alt.Chart(pd.DataFrame({"lo": [CB_LO], "hi": [CB_HI]})).mark_rect(
        fill=grad, stroke="black", strokeWidth=1).encode(
        y=alt.Y("lo:Q", scale=cs, axis=cax), y2="hi:Q",
        x=alt.value(0), x2=alt.value(CB_W))
    tl = alt.Chart(pd.DataFrame({"lo": CB_TICKS})).mark_rule(color="black").encode(
        y=alt.Y("lo:Q", scale=cs, axis=cax), x=alt.value(0), x2=alt.value(3))
    tr = alt.Chart(pd.DataFrame({"lo": CB_TICKS})).mark_rule(color="black").encode(
        y=alt.Y("lo:Q", scale=cs, axis=cax), x=alt.value(CB_W - 3), x2=alt.value(CB_W))
    return alt.layer(bar, tl, tr).properties(width=CB_CELL, height=H)


cells = [make_colorbar(), make_panel(PANELS[0]), make_panel(PANELS[1]), make_panel(PANELS[2]),
         make_colorbar(), make_panel(PANELS[3]), make_panel(PANELS[4]), make_panel(PANELS[5])]

chart = alt.concat(*cells, columns=4, spacing={"row": 101, "column": 77}, bounds="flush").properties(
    padding={"left": 3, "top": 5, "right": 5, "bottom": 5}
).configure_axis(
    labelFont=FONT, labelFontSize=21, labelColor="black", domainColor="black",
    domainWidth=1, ticks=False, grid=False
).configure_view(stroke=None)

chart.save("out.html", embed_options={"renderer": "svg", "actions": False})
